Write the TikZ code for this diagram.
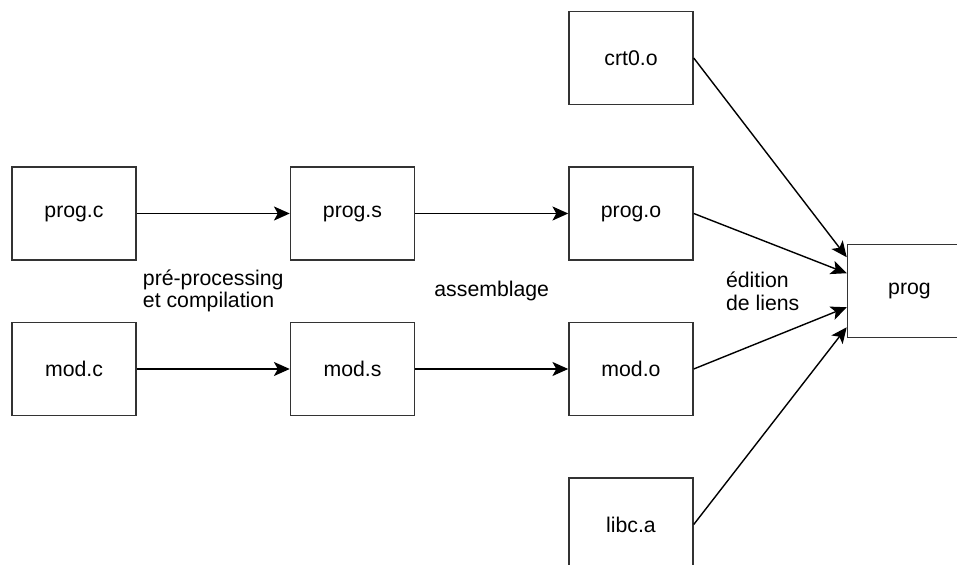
\documentclass[tikz,border=0pt]{standalone}
\usepackage{fontspec}
\setmainfont{Liberation Sans}
\usetikzlibrary{positioning,arrows.meta,calc}

\begin{document}
\begin{tikzpicture}[
    file/.style={rectangle, draw=black!80, line width=0.85pt, minimum width=2.48cm, minimum height=1.86cm, align=center, font=\fontsize{12.1}{12.6}\selectfont},
    stage/.style={align=left, inner sep=0pt, font=\fontsize{12.1}{12.6}\selectfont},
    arrow/.style={-{Stealth[length=9pt,width=8pt,inset=2.2pt]}, line width=0.8pt}
]
    \useasboundingbox (0,0) rectangle (19.14,-11.30);

    % sources, assembler files, objects
    \node[file] (progc) at (1.48,-4.27) {prog.c};
    \node[file, right=3.06cm of progc] (progs) {prog.s};
    \node[file, right=3.06cm of progs] (progo) {prog.o};

    \node[file, below=1.22cm of progc] (modc) {mod.c};
    \node[file, below=1.22cm of progs] (mods) {mod.s};
    \node[file, below=1.22cm of progo] (modo) {mod.o};

    \node[file, above=1.22cm of progo] (crt0) {crt0.o};
    \node[file, below=1.22cm of modo] (libc) {libc.a};

    % executable
    \coordinate (linkmid) at ($(progo.east)!0.5!(modo.east)$);
    \node[file, right=3.06cm of linkmid] (prog) {prog};

    \draw[arrow] (progc) -- (progs);
    \draw[arrow] (modc) -- (mods);
    \draw[arrow] (progs) -- (progo);
    \draw[arrow] (mods) -- (modo);

    \draw[arrow] (crt0.east) -- ([yshift=0.68cm]prog.west);
    \draw[arrow] (progo.east) -- ([yshift=0.36cm]prog.west);
    \draw[arrow] (modo.east) -- ([yshift=-0.32cm]prog.west);
    \draw[arrow] (libc.east) -- ([yshift=-0.72cm]prog.west);

    \node[stage] (compile) at ($(progc)!0.5!(mods)$) {pré-processing\\et compilation};
    \node[stage] (assemble) at ($(progs)!0.5!(modo)$) {assemblage};
    \node[stage, anchor=west] (link) at ([xshift=0.64cm]linkmid) {édition\\de liens};
\end{tikzpicture}
\end{document}
